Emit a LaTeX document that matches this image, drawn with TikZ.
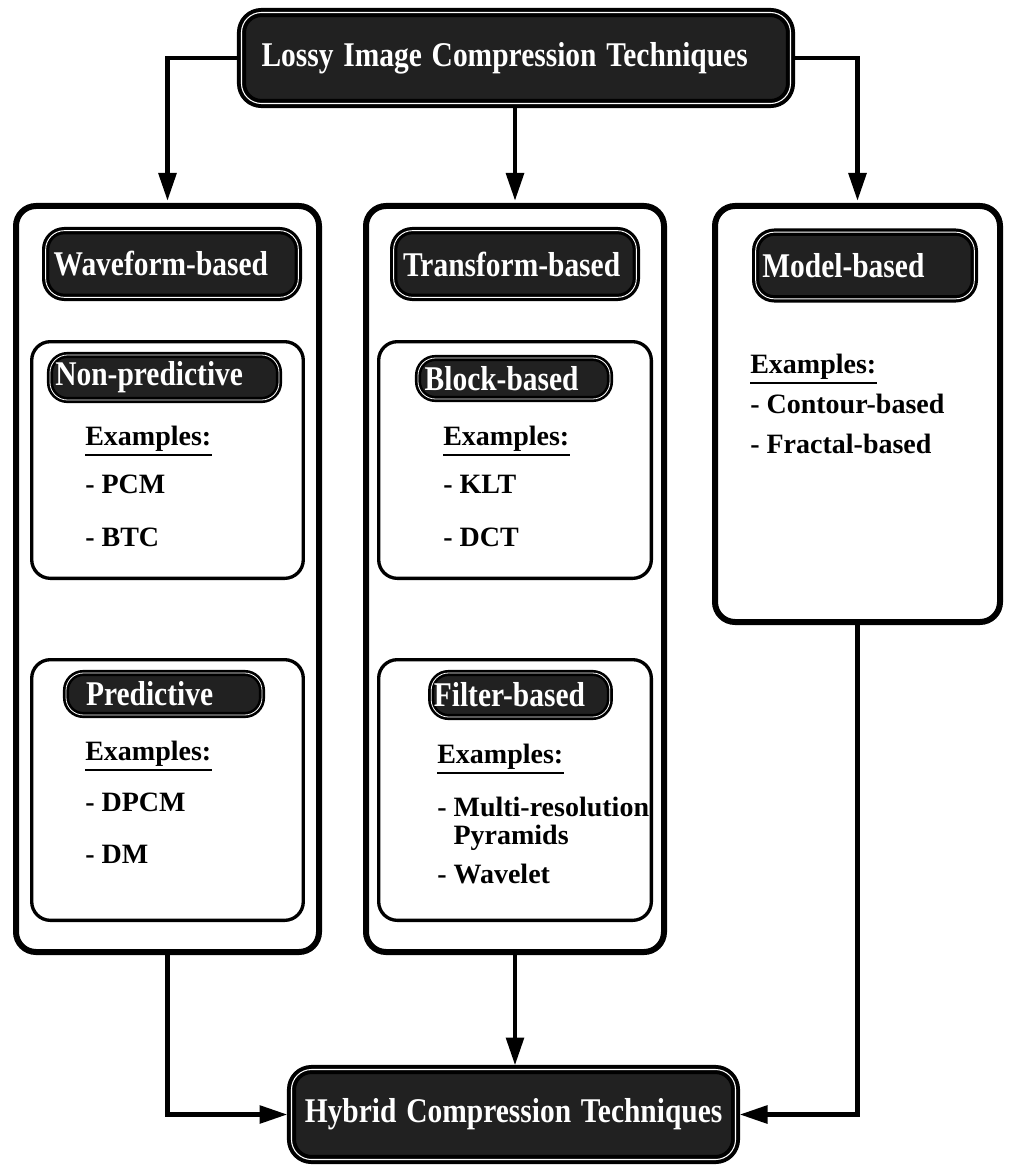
\documentclass[tikz,border=0pt]{standalone}
\usepackage{fontspec}
\setmainfont{Liberation Serif}
\usetikzlibrary{arrows.meta}

% condensed white lettering used in the dark banners
\newcommand{\bannertext}[1]{\scalebox{0.85}[1]{\mbox{#1}}}

\begin{document}
\begin{tikzpicture}[x=0.75pt, y=-0.75pt,
  column/.style={draw=black, line width=4.5pt, rounded corners=15pt, inner sep=0pt},
  group/.style={draw=black, line width=2.5pt, rounded corners=14pt, inner sep=0pt},
  banner/.style={draw=black, line width=3pt, double=white, double distance=0.8pt,
     fill=black!87, rounded corners=15pt, text=white, align=left, inner ysep=0pt,
     font=\bfseries\fontsize{26}{28}\selectfont},
  tag/.style={draw=black, line width=2.4pt, double=white, double distance=0.7pt,
     fill=black!87, rounded corners=14pt, text=white, align=left, inner ysep=0pt,
     font=\bfseries\fontsize{26}{28}\selectfont},
  subtag/.style={tag, line width=2pt, double distance=0.6pt, rounded corners=13pt},
  item/.style={anchor=west, inner sep=0pt, text height=0.7em, text depth=0.22em,
     font=\bfseries\fontsize{21}{22}\selectfont},
  uline/.style={line width=2pt},
  arr/.style={line width=3.6pt, -{Triangle[length=21pt,width=13pt]}, shorten >=1.5pt}
]
\fill[white] (0,0) rectangle (1013,1166);
\useasboundingbox (0,0) rectangle (1013,1166);

% top and bottom banners
\node[banner, minimum height=68.25pt, text width=381.75pt, inner xsep=15pt] (lossy) at (516,58)
  {\bannertext{Lossy Image Compression Techniques}};
\node[banner, minimum height=67.5pt, text width=313pt, inner xsep=10pt] (hybrid) at (513.5,1114.5)
  {\bannertext{Hybrid Compression Techniques}};

% the three families
\node[column, minimum width=227.25pt, minimum height=559.5pt] (wave) at (167.5,579) {};
\node[column, minimum width=223.5pt, minimum height=559.5pt] (trans) at (515,579) {};
\node[column, minimum width=213.75pt, minimum height=312pt] (model) at (857.5,414) {};

\node[tag, minimum height=50pt, text width=177.5pt, inner xsep=6pt] (waveT) at (172,264)
  {\bannertext{Waveform-based}};
\node[tag, minimum height=50pt, text width=168pt, inner xsep=7pt] (transT) at (515,264)
  {\bannertext{Transform-based}};
\node[tag, minimum height=50pt, text width=154pt, inner xsep=5pt] (modelT) at (865,265.5)
  {\bannertext{Model-based}};

% sub-groups
\node[group, minimum width=203.7pt, minimum height=177.5pt] (nonpred) at (167.5,460) {};
\node[group, minimum width=203.7pt, minimum height=195.5pt] (pred) at (167.5,790) {};
\node[group, minimum width=204.5pt, minimum height=177.5pt] (block) at (515,460) {};
\node[group, minimum width=204.5pt, minimum height=195.5pt] (filter) at (515,790) {};

\node[subtag, minimum height=33.75pt, text width=163.75pt, inner xsep=4pt] (nonpredT) at (164.5,377.5)
  {\bannertext{Non-predictive}};
\node[subtag, minimum height=31.5pt, text width=117pt, inner xsep=15pt] (predT) at (164,694)
  {\bannertext{Predictive}};
\node[subtag, minimum height=30.75pt, text width=134pt, inner xsep=5pt] (blockT) at (514,378.5)
  {\bannertext{Block-based}};
\node[subtag, minimum height=33pt, text width=130pt, inner xsep=2pt] (filterT) at (520.5,695)
  {\bannertext{Filter-based}};

% examples
\node[item] (exNP) at (85,442) {Examples:};
\node[item] (pcm) at (85,490) {- PCM};
\node[item] (btc) at (85,543) {- BTC};

\node[item] (exP) at (85,757) {Examples:};
\node[item] (dpcm) at (85,808) {- DPCM};
\node[item] (dm) at (85,860) {- DM};

\node[item] (exB) at (443,442) {Examples:};
\node[item] (klt) at (443,490) {- KLT};
\node[item] (dct) at (443,543) {- DCT};

\node[item] (exF) at (437,760) {Examples:};
\node[item, anchor=north west, align=left, text height=, text depth=,
      font=\bfseries\fontsize{21}{21}\selectfont] (multi) at (437,797)
  {- Multi-resolution\\\phantom{- }Pyramids};
\node[item] (wavelet) at (437,880) {- Wavelet};

\node[item] (exM) at (750,370) {Examples:};
\node[item] (contour) at (750,410) {- Contour-based};
\node[item] (fractal) at (750,450) {- Fractal-based};

\foreach \n in {exNP,exP,exB,exF,exM}
  \draw[uline] ([yshift=-5pt]\n.south west) -- ([yshift=-5pt]\n.south east);

% connectors
\draw[arr] (lossy.west) -| (wave.north);
\draw[arr] (lossy.south -| trans.north) -- (trans.north);
\draw[arr] (lossy.east) -| (model.north);
\draw[arr] (wave.south) |- (hybrid.west);
\draw[arr] (trans.south) -- (trans.south |- hybrid.north);
\draw[arr] (model.south) |- (hybrid.east);
\end{tikzpicture}
\end{document}
